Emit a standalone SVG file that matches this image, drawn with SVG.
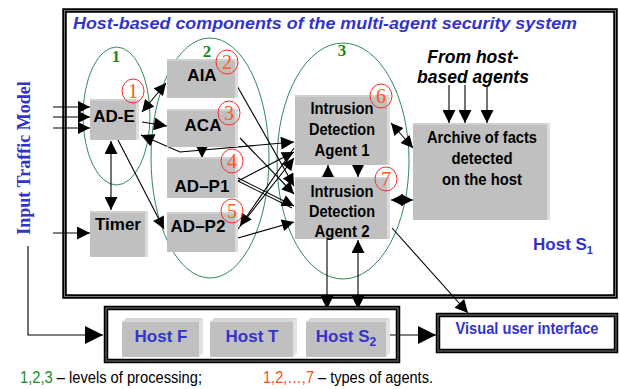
<svg xmlns="http://www.w3.org/2000/svg" width="620" height="389" viewBox="0 0 620 389">
  <defs>
    <marker id="ah" viewBox="0 0 12 12" refX="12" refY="6" markerWidth="13" markerHeight="12" markerUnits="userSpaceOnUse" orient="auto-start-reverse">
      <path d="M0,0 L12,6 L0,12 z" fill="#000"/>
    </marker>
    <marker id="ahM" viewBox="0 0 12 12" refX="12" refY="6" markerWidth="14" markerHeight="13" markerUnits="userSpaceOnUse" orient="auto-start-reverse">
      <path d="M0,0 L12,6 L0,12 z" fill="#000"/>
    </marker>
    <marker id="ahL" viewBox="0 0 12 12" refX="12" refY="6" markerWidth="18" markerHeight="18" markerUnits="userSpaceOnUse" orient="auto-start-reverse">
      <path d="M0,0 L12,6 L0,12 z" fill="#000"/>
    </marker>
  </defs>
  <style>
    .frame { fill: none; stroke: #000; stroke-width: 4.5; }
    .frame-in { fill: none; stroke: #777; stroke-width: 1; }
    .box { fill: #c0c0c0; }
    .hl-top { fill: #d0d0d0; }
    .hl-side { fill: #dcdcdc; }
    .lbl { font-family: "Liberation Sans", Arial, sans-serif; font-weight: bold; font-size: 17px; fill: #000; text-anchor: middle; }
    .lbl16 { font-family: "Liberation Sans", Arial, sans-serif; font-weight: bold; font-size: 16px; fill: #000; text-anchor: middle; }
    .blue { font-family: "Liberation Sans", Arial, sans-serif; font-weight: bold; font-size: 17px; fill: #3333cc; text-anchor: middle; }
    .lvl { fill: none; stroke: #2e8b57; stroke-width: 1; }
    .lvl-num { font-family: "Liberation Serif", "Times New Roman", serif; font-weight: bold; font-size: 17px; fill: #1a8a1a; text-anchor: middle; }
    .agt { fill: none; stroke: #ff2a2a; stroke-width: 1; }
    .agt-num { font-family: "Liberation Serif", "Times New Roman", serif; font-size: 20px; fill: #ff5a1a; text-anchor: middle; }
    .conn line, .conn polyline { stroke: #000; stroke-width: 1.1; fill: none; }
    .foot { font-family: "Liberation Sans", Arial, sans-serif; font-size: 16px; fill: #000; }
  </style>

  <!-- host S1 frame -->
  <rect class="frame" x="64.5" y="10.5" width="551" height="286"/>
  <rect class="frame-in" x="64.5" y="10.5" width="551" height="286"/>
  <text x="73" y="29" font-family="Liberation Sans, Arial, sans-serif" font-weight="bold" font-style="italic" font-size="17" fill="#3333cc" textLength="504" lengthAdjust="spacingAndGlyphs">Host-based components of the multi-agent security system</text>

  <!-- processing levels -->
  <g id="levels">
    <ellipse class="lvl" cx="116.5" cy="116" rx="33.5" ry="69"/>
    <ellipse class="lvl" cx="210" cy="158" rx="59" ry="120"/>
    <ellipse class="lvl" cx="343" cy="161" rx="66" ry="118"/>
    <text class="lvl-num" x="116" y="62">1</text>
    <text class="lvl-num" x="207" y="57">2</text>
    <text class="lvl-num" x="342" y="56">3</text>
  </g>

  <!-- input traffic model -->
  <text x="30" y="158" transform="rotate(-90 30 158)" font-family="Liberation Serif, Times New Roman, serif" font-weight="bold" font-size="18" fill="#3333cc" text-anchor="middle">Input Traffic Model</text>

  <!-- connectors -->
  <g class="conn">
    <!-- inputs -->
    <line x1="53" y1="107" x2="90" y2="107" marker-end="url(#ah)"/>
    <line x1="53" y1="117" x2="90" y2="117" marker-end="url(#ah)"/>
    <line x1="53" y1="128" x2="90" y2="128" marker-end="url(#ah)"/>
    <line x1="53" y1="233" x2="90" y2="233" marker-end="url(#ahM)"/>
    <polyline points="28,246 28,335 103,335" marker-end="url(#ahL)"/>
    <!-- level 1 -->
    <line x1="142" y1="112" x2="166" y2="83" marker-start="url(#ah)" marker-end="url(#ah)"/>
    <line x1="142" y1="122" x2="167" y2="126" marker-end="url(#ahM)"/>
    <line x1="111" y1="141" x2="111" y2="210" marker-start="url(#ahM)" marker-end="url(#ahM)"/>
    <line x1="118" y1="140" x2="164" y2="229" marker-end="url(#ah)"/>
    <polyline points="141,135 180,152 294,142" marker-start="url(#ahM)" marker-end="url(#ahM)"/>
    <!-- level 2 -->
    <line x1="202" y1="147" x2="202" y2="158" marker-end="url(#ahM)"/>
    <line x1="236" y1="84" x2="294" y2="186" marker-end="url(#ah)"/>
    <line x1="240" y1="138" x2="294" y2="194" marker-end="url(#ah)"/>
    <line x1="238" y1="178" x2="294" y2="206" marker-end="url(#ah)"/>
    <line x1="238" y1="181" x2="292" y2="208"/>
    <line x1="238" y1="181" x2="294" y2="152" marker-end="url(#ah)"/>
    <line x1="294" y1="148" x2="240" y2="226" marker-end="url(#ah)"/>
    <line x1="238" y1="229" x2="294" y2="158" marker-end="url(#ah)"/>
    <line x1="238" y1="238" x2="294" y2="222" marker-end="url(#ah)"/>
    <!-- level 3 -->
    <line x1="328" y1="177" x2="328" y2="165" marker-end="url(#ahM)"/>
    <line x1="358" y1="165" x2="358" y2="177" marker-end="url(#ahM)"/>
    <line x1="391" y1="123" x2="413" y2="148" marker-start="url(#ah)" marker-end="url(#ah)"/>
    <line x1="391" y1="200" x2="413" y2="200" marker-start="url(#ah)" marker-end="url(#ah)"/>
    <line x1="392" y1="228" x2="468" y2="313" marker-end="url(#ahM)"/>
    <line x1="327" y1="239" x2="327" y2="309" marker-end="url(#ahM)"/>
    <line x1="358" y1="240" x2="358" y2="309" marker-start="url(#ahM)" marker-end="url(#ahM)"/>
    <!-- from host-based agents -->
    <line x1="449" y1="85" x2="449" y2="123" marker-end="url(#ahM)"/>
    <line x1="465" y1="85" x2="465" y2="123" marker-end="url(#ahM)"/>
    <line x1="487" y1="85" x2="487" y2="123" marker-end="url(#ahM)"/>
    <!-- host S2 to interface -->
    <line x1="390" y1="335" x2="436" y2="335" marker-end="url(#ahL)"/>
  </g>

  <!-- agents -->
  <g id="ad-e">
    <rect class="box" x="90" y="99" width="49" height="41"/>
    <rect class="hl-top" x="90" y="99" width="49" height="2"/>
    <rect class="hl-side" x="136" y="99" width="3" height="41"/>
    <text class="lbl" x="114" y="122">AD-E</text>
  </g>
  <g id="timer">
    <rect class="box" x="90" y="211" width="58" height="46"/>
    <rect class="hl-top" x="90" y="211" width="58" height="2"/>
    <rect class="hl-side" x="145" y="211" width="3" height="46"/>
    <text class="lbl" x="118" y="230">Timer</text>
  </g>
  <g id="aia">
    <rect class="box" x="167" y="59" width="71" height="39"/>
    <rect class="hl-top" x="167" y="59" width="71" height="2"/>
    <rect class="hl-side" x="235" y="59" width="3" height="39"/>
    <text class="lbl" x="202" y="81">AIA</text>
  </g>
  <g id="aca">
    <rect class="box" x="167" y="109" width="71" height="38"/>
    <rect class="hl-top" x="167" y="109" width="71" height="2"/>
    <rect class="hl-side" x="235" y="109" width="3" height="38"/>
    <text class="lbl" x="203" y="131">ACA</text>
  </g>
  <g id="ad-p1">
    <rect class="box" x="167" y="157" width="71" height="41"/>
    <rect class="hl-top" x="167" y="157" width="71" height="2"/>
    <rect class="hl-side" x="235" y="157" width="3" height="41"/>
    <text class="lbl" x="202" y="192">AD–P1</text>
  </g>
  <g id="ad-p2">
    <rect class="box" x="167" y="212" width="71" height="40"/>
    <rect class="hl-top" x="167" y="212" width="71" height="2"/>
    <rect class="hl-side" x="235" y="212" width="3" height="40"/>
    <text class="lbl" x="198" y="232">AD–P2</text>
  </g>
  <g id="ida1">
    <rect class="box" x="295" y="95" width="95" height="70"/>
    <rect class="hl-top" x="295" y="95" width="95" height="2"/>
    <rect class="hl-side" x="387" y="95" width="3" height="70"/>
    <text class="lbl16" x="342" y="114" textLength="63" lengthAdjust="spacingAndGlyphs">Intrusion</text>
    <text class="lbl16" x="342" y="135" textLength="66" lengthAdjust="spacingAndGlyphs">Detection</text>
    <text class="lbl16" x="342" y="156" textLength="55" lengthAdjust="spacingAndGlyphs">Agent 1</text>
  </g>
  <g id="ida2">
    <rect class="box" x="295" y="177" width="95" height="62"/>
    <rect class="hl-top" x="295" y="177" width="95" height="2"/>
    <rect class="hl-side" x="387" y="177" width="3" height="62"/>
    <text class="lbl16" x="342" y="197" textLength="63" lengthAdjust="spacingAndGlyphs">Intrusion</text>
    <text class="lbl16" x="342" y="217" textLength="66" lengthAdjust="spacingAndGlyphs">Detection</text>
    <text class="lbl16" x="342" y="237" textLength="55" lengthAdjust="spacingAndGlyphs">Agent 2</text>
  </g>
  <g id="archive">
    <rect class="box" x="413" y="123" width="137" height="97"/>
    <rect class="hl-top" x="413" y="123" width="137" height="2"/>
    <rect class="hl-side" x="547" y="123" width="3" height="97"/>
    <text class="lbl16" x="482" y="143" textLength="110" lengthAdjust="spacingAndGlyphs">Archive of facts</text>
    <text class="lbl16" x="482" y="164" textLength="61" lengthAdjust="spacingAndGlyphs">detected</text>
    <text class="lbl16" x="482" y="185" textLength="80" lengthAdjust="spacingAndGlyphs">on the host</text>
  </g>
  <g id="from-agents">
    <text x="473" y="63" font-family="Liberation Sans, Arial, sans-serif" font-weight="bold" font-style="italic" font-size="17.5" fill="#000" text-anchor="middle">From host-</text>
    <text x="473" y="83" font-family="Liberation Sans, Arial, sans-serif" font-weight="bold" font-style="italic" font-size="17.5" fill="#000" text-anchor="middle">based agents</text>
  </g>
  <text class="blue" x="563" y="250" font-size="16">Host S<tspan font-size="11" dy="4">1</tspan></text>

  <!-- agent type markers -->
  <g id="agent-types">
    <ellipse class="agt" cx="133" cy="91" rx="11" ry="12"/>
    <text class="agt-num" x="133" y="98">1</text>
    <ellipse class="agt" cx="227" cy="62" rx="11" ry="12"/>
    <text class="agt-num" x="227" y="69">2</text>
    <ellipse class="agt" cx="229" cy="113" rx="11" ry="12"/>
    <text class="agt-num" x="229" y="120">3</text>
    <ellipse class="agt" cx="232" cy="161" rx="11" ry="12"/>
    <text class="agt-num" x="232" y="168">4</text>
    <ellipse class="agt" cx="232" cy="211" rx="11" ry="12"/>
    <text class="agt-num" x="232" y="218">5</text>
    <ellipse class="agt" cx="381" cy="96" rx="11" ry="12"/>
    <text class="agt-num" x="381" y="103">6</text>
    <ellipse class="agt" cx="386" cy="179" rx="11" ry="12"/>
    <text class="agt-num" x="386" y="186">7</text>
  </g>

  <!-- other hosts -->
  <rect class="frame" x="106" y="308" width="292" height="53"/>
  <rect class="frame-in" x="106" y="308" width="292" height="53"/>
  <g id="host-f">
    <rect class="box" x="122" y="322" width="77" height="35"/>
    <polygon points="122,322 126,318 203,318 199,322" fill="#d6d6d6"/>
    <polygon points="199,322 203,318 203,353 199,357" fill="#e2e2e2"/>
    <text class="blue" x="161" y="342">Host F</text>
  </g>
  <g id="host-t">
    <rect class="box" x="210" y="322" width="83" height="35"/>
    <polygon points="210,322 214,318 297,318 293,322" fill="#d6d6d6"/>
    <polygon points="293,322 297,318 297,353 293,357" fill="#e2e2e2"/>
    <text class="blue" x="252" y="342">Host T</text>
  </g>
  <g id="host-s2">
    <rect class="box" x="306" y="322" width="80" height="35"/>
    <polygon points="306,322 310,318 390,318 386,322" fill="#d6d6d6"/>
    <polygon points="386,322 390,318 390,353 386,357" fill="#e2e2e2"/>
    <text class="blue" x="346" y="342">Host S<tspan font-size="12" dy="4">2</tspan></text>
  </g>

  <!-- user interface -->
  <g id="vui">
    <rect class="frame" x="438" y="315" width="178" height="36" stroke-width="4"/>
    <rect class="frame-in" x="438" y="315" width="178" height="36"/>
    <text class="blue" x="527" y="334" font-size="16" textLength="143" lengthAdjust="spacingAndGlyphs">Visual user interface</text>
  </g>

  <!-- legend -->
  <text class="foot" x="20" y="383" textLength="182" lengthAdjust="spacingAndGlyphs"><tspan fill="#1a8a1a">1,2,3</tspan> – levels of processing;</text>
  <text class="foot" x="263" y="383" textLength="170" lengthAdjust="spacingAndGlyphs"><tspan fill="#ff4a1a">1,2,…,7</tspan> – types of agents.</text>
</svg>
